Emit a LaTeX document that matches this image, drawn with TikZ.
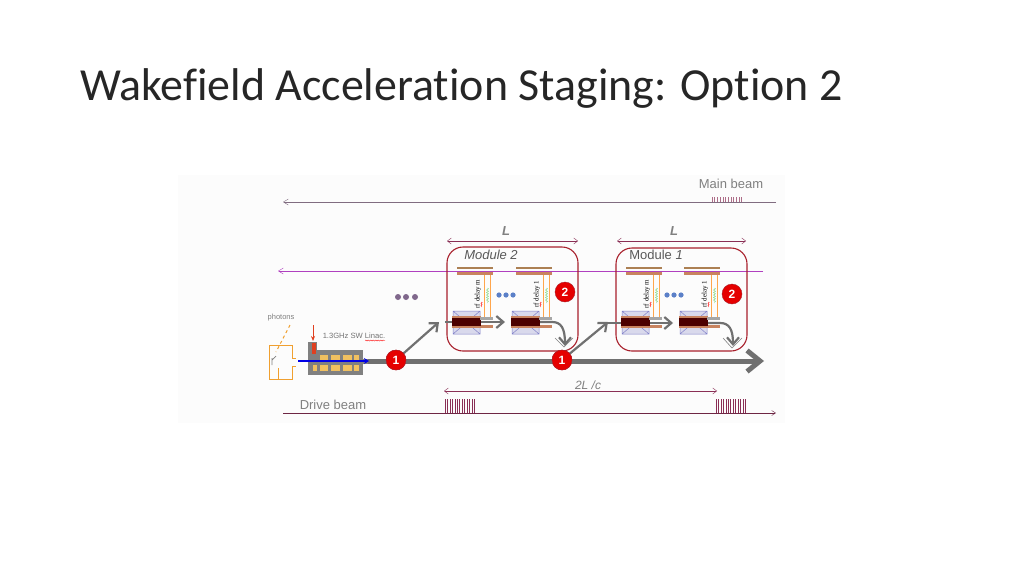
\documentclass[tikz,border=0pt]{standalone}
\usepackage{fontspec}
\setmainfont{Liberation Sans}
\newfontfamily\titlefont[Ligatures=NoCommon]{Carlito}
\newfontfamily\delayfont{Liberation Serif}
\usetikzlibrary{arrows.meta,decorations.pathmorphing}

\definecolor{beamgray}{HTML}{707070}
\definecolor{modred}{HTML}{A8202C}
\definecolor{wine}{HTML}{8A2F55}
\definecolor{barbrown}{HTML}{C8835F}
\definecolor{lilac}{HTML}{D9D9EC}
\definecolor{linacgold}{HTML}{F0C060}
\definecolor{rfline}{HTML}{B040C0}
\definecolor{rfred}{HTML}{E04020}
\definecolor{dotblue}{HTML}{5B80C8}
\definecolor{dotviolet}{HTML}{80688C}
\definecolor{photonorange}{HTML}{F0A030}

\newcommand{\fsize}[1]{\fontsize{#1}{#1}\selectfont}

\begin{document}
\begin{tikzpicture}[
  x=1pt,
  y=-1pt,
  label/.style={
    inner sep=0pt,
    text=gray,
    font=\fsize{13},
  },
  modbox/.style={
    draw=modred,
    line width=1.1pt,
    rounded corners=16pt,
  },
  badge/.style={
    draw=modred,
    fill=red!90!black,
    circle,
    minimum size=20pt,
    inner sep=0pt,
    text=white,
    font=\fsize{12}\bfseries,
  },
  span/.style={
    draw=wine,
    {Straight Barb[length=4pt,width=6pt]}-{Straight Barb[length=4pt,width=6pt]},
  },
  beam/.style={
    draw=beamgray,
    line width=2.2pt,
    -{Straight Barb[length=7pt,width=12pt]},
  },
  pics/cavity/.style={
    code={
      % rf load bars and delay lines
      \fill[brown!70!gray] (0,0) rectangle (36,2);
      \fill[barbrown] (0,5) rectangle (36,8);
      \draw[orange!70!white,line width=.8pt] (27.5,8) -- (27.5,51) (33.5,8) -- (33.5,51);
      \draw[green!50!gray!70,decorate,decoration={snake,amplitude=1pt,segment length=2.5pt}] (30.5,21) -- (30.5,36);
      \node[rotate=90,inner sep=0pt,font=\delayfont\fsize{7}] at (21,27) {#1};
      \draw[red,decorate,decoration={snake,amplitude=.6pt,segment length=2pt},line width=.4pt] (24.5,35) -- (24.5,40);
      % quadrupole and structure
      \draw[blue!40!gray!70,fill=lilac,line width=.5pt] (-4,44) rectangle (23,67) (-4,44) -- (23,67) (23,44) -- (-4,67);
      \fill[barbrown] (-5,49) rectangle (24,61);
      \fill[black!70!red] (-5,51) rectangle (24,59);
      \fill[gray!70] (23,50) rectangle (36,52.5);
      \fill[barbrown] (24,58) rectangle (36,61);
    },
  },
]
\useasboundingbox (0,0) rectangle (1024,576);
\fill[black!1!white] (178,175) rectangle (785,423);

% Title
\node[anchor=base west,inner sep=0pt,text=black!85,font=\titlefont\fsize{45.9}] (title) at (80,100) {Wakefield Acceleration Staging: Option 2};

% Main beam line
\coordinate (mainstart) at (776,202);
\coordinate (mainend) at (283,202);
\draw[draw=gray!85!violet,-{Straight Barb[length=5pt,width=6pt]}] (mainstart) -- (mainend);
\node[label] (mainlabel) at (731,184) {Main beam};
\foreach \p in {0,...,11} {
  \draw[wine!70,line width=.5pt] (712+\p*2.7,197) -- (712+\p*2.7,202);
}

% Purple line
\coordinate (linestart) at (763,271);
\coordinate (lineend) at (278,271);
\draw[draw=rfline,-{Straight Barb[length=5pt,width=6pt]}] (linestart) -- (lineend);

% Modules
\node[modbox,minimum width=131pt,minimum height=104pt] (module2) at (512.5,299) {};
\node[modbox,minimum width=131pt,minimum height=103pt] (module1) at (681.5,299.5) {};
\node[label,text=black!65,font=\fsize{13}\itshape] (module2label) at (491,255) {Module 2};
\node[label,text=black!65,font=\fsize{13}] (module1label) at (656,255) {Module \textit{1}};

% Lengths
\coordinate (l2a) at (447,241);
\coordinate (l2b) at (578,241);
\coordinate (l1a) at (617,241);
\coordinate (l1b) at (746,241);
\draw[span] (l2a) -- (l2b);
\draw[span] (l1a) -- (l1b);
\node[label,font=\fsize{13}\bfseries\itshape] (l2label) at (506,231) {L};
\node[label,font=\fsize{13}\bfseries\itshape] (l1label) at (674,231) {L};

% Drive beam axis
\coordinate (beamstart) at (363,361);
\coordinate (beamend) at (764,361);
\node[badge] (kick1) at (396,360) {1};
\node[badge] (kick2) at (562,360) {1};
\draw[draw=beamgray,line width=5pt,-{Straight Barb[length=13pt,width=21pt]}] (beamstart) -- (beamend);

% Module beam paths
\coordinate (in2) at (439,322);
\coordinate (in1) at (608,322);
\coordinate (mid2a) at (445,322);
\coordinate (mid2b) at (505,322);
\coordinate (mid1a) at (604,323);
\coordinate (mid1b) at (673,323);
\coordinate (out2a) at (513,322);
\coordinate (out2b) at (565,346);
\coordinate (out1a) at (680,323);
\coordinate (out1b) at (733,346);
\draw[beam] (kick1) -- (in2);
\draw[beam] (kick2) -- (in1);
\draw[beam] (mid2a) -- (mid2b);
\draw[beam] (mid1a) -- (mid1b);
\draw[beam] (out2a) -- (552,322) .. controls (561,322) and (565,328) .. (out2b);
\draw[beam] (out1a) -- (720,323) .. controls (729,323) and (733,329) .. (out1b);

% Cavity units
\pic at (457,267) {cavity={rf delay m}};
\pic at (516,267) {cavity={rf delay 1}};
\pic at (626,267) {cavity={rf delay m}};
\pic at (684,267) {cavity={rf delay 1}};

% Kicker marks
\draw[gray,line width=.6pt] (555,338) -- (564,347) -- (573,338);
\draw[gray,line width=.6pt] (723,338) -- (732,348) -- (742,338);

% Dots
\foreach \x in {398,406,415} {
  \fill[dotviolet] (\x,297) circle (3pt);
}
\foreach \x in {499,506,513,667,674,681} {
  \fill[dotblue] (\x,295) circle (2.6pt);
}

\node[badge] (stage2) at (565,292) {2};
\node[badge] (stage1) at (732,294) {2};
\node[badge] at (kick1) {1};
\node[badge] at (kick2) {1};

% Photo injector
\node[label,font=\fsize{7.5}] (photons) at (281,318) {photons};
\draw[photonorange,line width=1pt] (292,358) -- (292,345) -- (269,345) -- (269,379) -- (292,379) -- (292,366) (292,358) -- (296,358) (292,366) -- (296,366) (278,368) -- (278,379);
\draw[photonorange,dashed,line width=1pt] (290,325) -- (276,352);
\draw[gray,line width=.7pt] (272,358) -- (272,365) (272,360) -- (276,356);

% Linac
\fill[gray] (308,342) rectangle (317,352);
\fill[gray] (308,350) rectangle (363,375);
\fill[gray] (363,358.5) rectangle (368,363.5);
\fill[rfred] (312,343) rectangle (316,354);
\foreach \x/\w in {320/8,331/9,343/9,354/5} {
  \fill[linacgold] (\x,355) rectangle (\x+\w,359.5);
  \fill[linacgold] (\x,365) rectangle (\x+\w,371);
}
\fill[linacgold] (313,365) rectangle (317,371);
\coordinate (rfin) at (313,325);
\coordinate (rfend) at (313,341);
\draw[rfred,line width=.9pt,-{Stealth[length=5pt,width=4pt]}] (rfin) -- (rfend);
\coordinate (bluestart) at (298,361);
\coordinate (blueend) at (369,361);
\draw[blue!90!black,line width=2pt,-{Stealth[length=5pt,width=6pt]}] (bluestart) -- (blueend);
\node[label,text=gray!90!black,font=\fsize{7.6}] (linaclabel) at (354,336) {1.3GHz SW Linac.};
\draw[red,decorate,decoration={snake,amplitude=.5pt,segment length=2.5pt},line width=.4pt] (365,340.5) -- (385,340.5);

% Round trip
\node[label,font=\fsize{12}\itshape] (delaylabel) at (588,385) {2L /c};
\coordinate (d1) at (444,391);
\coordinate (d2) at (717,391);
\draw[span] (d1) -- (d2);

% Drive beam
\coordinate (drivestart) at (283,413);
\coordinate (driveend) at (776,413);
\draw[draw=wine!80!black,-{Straight Barb[length=4pt,width=5pt]}] (drivestart) -- (driveend);
\node[label] (drivelabel) at (333,405) {Drive beam};
\foreach \s in {445,716} {
  \foreach \p in {0,...,12} {
    \draw[wine,line width=.6pt] (\s+\p*2.45,399) -- (\s+\p*2.45,413);
  }
}

\end{tikzpicture}
\end{document}
